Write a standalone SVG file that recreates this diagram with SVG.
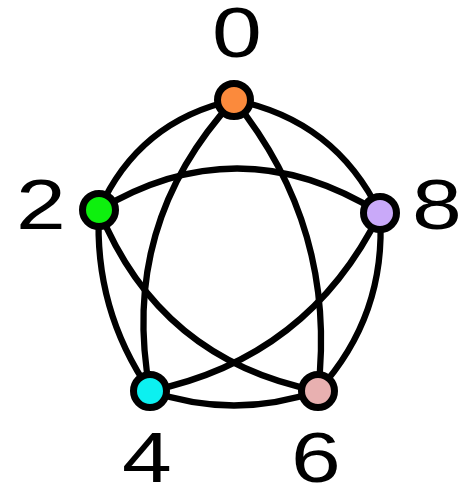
<svg xmlns="http://www.w3.org/2000/svg" width="461" height="486" viewBox="0 0 461 486">
<style>
.e{fill:none;stroke:#000;stroke-width:6.3;stroke-linecap:round}
.n{stroke:#000;stroke-width:7}
.l{font-family:"Liberation Sans",Arial,sans-serif;font-size:70px;text-anchor:middle;fill:#000}
</style>
<rect width="461" height="486" fill="#fff"/>
<g id="edges">
<path class="e" d="M234,100 Q138.7,120.9 99,210"/>
<path class="e" d="M234,100 Q335.2,120.1 380,213"/>
<path class="e" d="M99,210 Q239.5,125.5 380,213"/>
<path class="e" d="M234,100 Q119,224.5 150,391"/>
<path class="e" d="M234,100 Q337.4,227.8 318,391"/>
<path class="e" d="M99,210 Q93.7,309.2 150,391"/>
<path class="e" d="M380,213 Q386.8,315.2 318,391"/>
<path class="e" d="M99,210 Q159.5,359.9 318,391"/>
<path class="e" d="M380,213 Q308.5,358.2 150,391"/>
<path class="e" d="M150,391 Q234,420 318,391"/>
</g>
<g id="node0"><circle class="n" cx="234" cy="100" r="16.5" fill="#fb8a3c"/><text class="l" transform="translate(237,57) scale(1.28,1)">0</text></g>
<g id="node2"><circle class="n" cx="99" cy="210" r="16.5" fill="#0ef00e"/><text class="l" transform="translate(41,229) scale(1.28,1)">2</text></g>
<g id="node8"><circle class="n" cx="380" cy="213" r="16.5" fill="#c9a9f9"/><text class="l" transform="translate(437,229) scale(1.28,1)">8</text></g>
<g id="node4"><circle class="n" cx="150" cy="391" r="16.5" fill="#0cf0f0"/><text class="l" transform="translate(147,482) scale(1.28,1)">4</text></g>
<g id="node6"><circle class="n" cx="318" cy="391" r="16.5" fill="#e8b0b0"/><text class="l" transform="translate(316,482) scale(1.28,1)">6</text></g>
</svg>
